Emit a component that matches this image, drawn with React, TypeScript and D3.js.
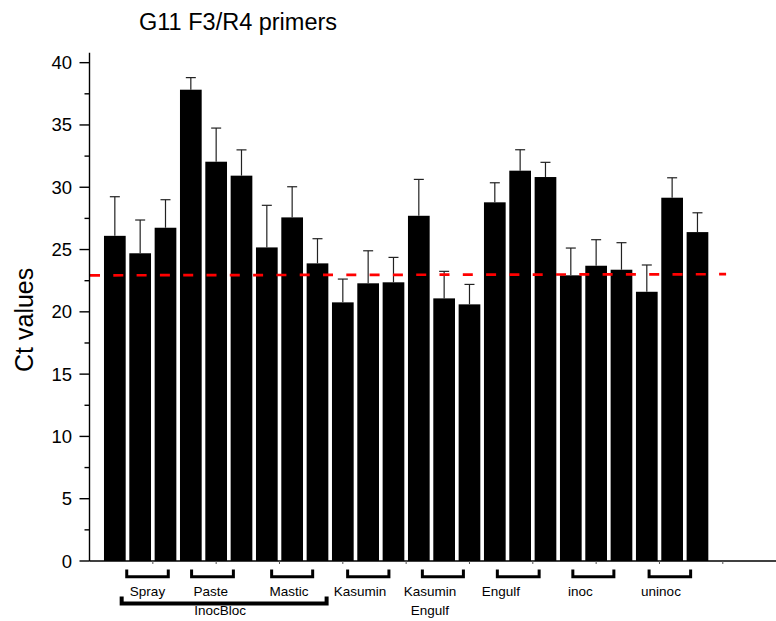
import React from "react";
import * as d3 from "d3";

// Mean Ct value and its error for each of the 24 samples (positions 1..24)
const ctMeans = [
  26.1, 24.7, 26.75, 37.83, 32.05, 30.93, 25.17, 27.58, 23.89, 20.76, 22.29, 22.37,
  27.71, 21.08, 20.6, 28.79, 31.33, 30.82, 22.93, 23.7, 23.38, 21.61, 29.16, 26.4,
];
const ctErrors = [
  3.14, 2.67, 2.25, 0.97, 2.7, 2.07, 3.38, 2.46, 1.98, 1.87, 2.61, 2.0,
  2.92, 2.17, 1.6, 1.57, 1.68, 1.18, 2.19, 2.09, 2.17, 2.15, 1.6, 1.55,
];

// Treatment groups: label lines, bracket span and label position (in sample units)
const groupLabels = [
  ["Spray"], ["Paste"], ["Mastic"], ["Kasumin"], ["Kasumin", "Engulf"], ["Engulf"], ["inoc"], ["uninoc"],
];
const bracketFrom = [1.47, 4.03, 7.19, 10.19, 13.14, 16.1, 19.08, 22.09];
const bracketTo = [3.11, 5.68, 8.81, 11.82, 14.76, 17.75, 20.7, 23.73];
const labelAt = [2.29, 4.79, 7.88, 10.68, 13.44, 16.24, 19.38, 22.56];

// Umbrella group spanning the first three treatments
const outerLabel = "InocBloc";
const outerFrom = 1.27;
const outerTo = 9.36;
const outerLabelAt = 5.16;

// Reference threshold line (start/end values)
const refX = [0.02, 25.13];
const refY = [22.93, 23.02];

const yMajorTicks = [0, 5, 10, 15, 20, 25, 30, 35, 40];
const yMinorTicks = [2.5, 7.5, 12.5, 17.5, 22.5, 27.5, 32.5, 37.5];
const xMinorTicks = [2.5, 5, 7.5, 10, 12.5, 15, 17.5, 20, 22.5, 25];

const title = "G11 F3/R4 primers";
const yTitle = "Ct values";

const W = 776;
const H = 621;
const FONT = "'Liberation Sans', Arial, Helvetica, sans-serif";

export default function App() {
  const x = d3.scaleLinear().domain([0, 27.1]).range([89.5, 776]);
  const y = d3.scaleLinear().domain([0, 40.8]).range([561, 52.7]);
  const barW = 21.7;
  const capW = 10;

  const samples = ctMeans.map((m, i) => ({ pos: i + 1, mean: m, err: ctErrors[i] }));

  const bracketPath = (a: number, b: number, yTop: number, yLine: number) =>
    `M${x(a)},${yTop}V${yLine}H${x(b)}V${yTop}`;

  return (
    <svg
      width={W}
      height={H}
      style={{ position: "absolute", left: 0, top: 0, background: "#fff", display: "block" }}
      fontFamily={FONT}
    >
      <rect x={0} y={0} width={W} height={H} fill="#fff" />

      <text x={139} y={29.5} fontSize={23.5} fill="#000">{title}</text>

      <text
        transform={`translate(33,${(y(0) + y(40.8)) / 2 + 13}) rotate(-90)`}
        textAnchor="middle"
        fontSize={25}
        fill="#000"
      >
        {yTitle}
      </text>

      {/* bars */}
      {samples.map((s) => (
        <rect
          key={"b" + s.pos}
          x={x(s.pos) - barW / 2}
          y={y(s.mean)}
          width={barW}
          height={y(0) - y(s.mean)}
          fill="#000"
        />
      ))}

      {/* error bars */}
      {samples.map((s) => (
        <g key={"e" + s.pos} stroke="#222" strokeWidth={1.2}>
          <line x1={x(s.pos)} x2={x(s.pos)} y1={y(s.mean)} y2={y(s.mean + s.err)} />
          <line x1={x(s.pos) - capW / 2} x2={x(s.pos) + capW / 2} y1={y(s.mean + s.err)} y2={y(s.mean + s.err)} />
        </g>
      ))}

      {/* threshold */}
      <line
        x1={x(refX[0])}
        x2={x(refX[1])}
        y1={y(refY[0])}
        y2={y(refY[1])}
        stroke="#ff0000"
        strokeWidth={2.7}
        strokeDasharray="10 13.3"
      />

      {/* y axis */}
      <line x1={x(0)} x2={x(0)} y1={y(0)} y2={y(40.8)} stroke="#000" strokeWidth={1.4} />
      {yMajorTicks.map((t) => (
        <g key={"ym" + t}>
          <line x1={x(0) - 10} x2={x(0)} y1={y(t)} y2={y(t)} stroke="#000" strokeWidth={1.4} />
          <text x={x(0) - 17.5} y={y(t) + 6.5} textAnchor="end" fontSize={18.5} fill="#000">
            {t}
          </text>
        </g>
      ))}
      {yMinorTicks.map((t) => (
        <line key={"yn" + t} x1={x(0) - 5} x2={x(0)} y1={y(t)} y2={y(t)} stroke="#000" strokeWidth={1.4} />
      ))}

      {/* x axis */}
      <line x1={x(0)} x2={W} y1={y(0)} y2={y(0)} stroke="#000" strokeWidth={1.4} />
      {xMinorTicks.map((t) => (
        <line key={"xn" + t} x1={x(t)} x2={x(t)} y1={y(0)} y2={y(0) + 3} stroke="#555" strokeWidth={1} />
      ))}

      {/* group brackets and labels */}
      {groupLabels.map((lines, i) => (
        <g key={"g" + i}>
          <path
            d={bracketPath(bracketFrom[i], bracketTo[i], 569.5, 576.7)}
            fill="none"
            stroke="#000"
            strokeWidth={3}
          />
          {lines.map((ln, j) => (
            <text
              key={j}
              x={x(labelAt[i])}
              y={595.5 + j * 19.5}
              textAnchor="middle"
              fontSize={13.5}
              fill="#000"
            >
              {ln}
            </text>
          ))}
        </g>
      ))}

      <path d={bracketPath(outerFrom, outerTo, 596.5, 603.5)} fill="none" stroke="#000" strokeWidth={4} />
      <text x={x(outerLabelAt)} y={615} textAnchor="middle" fontSize={13.5} fill="#000">
        {outerLabel}
      </text>
    </svg>
  );
}
